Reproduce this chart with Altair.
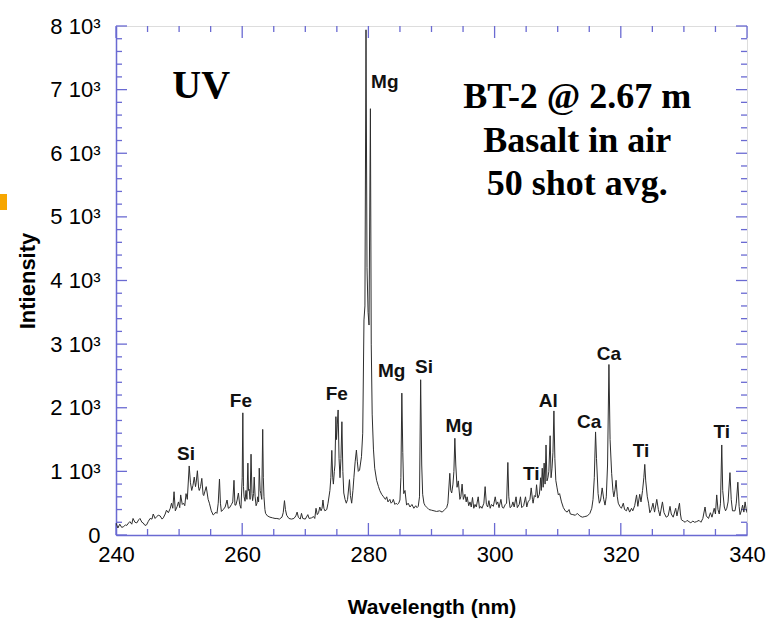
import altair as alt
import pandas as pd

# LIBS spectrum, UV channel: (wavelength in nm, intensity in counts)
seg_240_250 = [
    (240.0, 190), (240.3, 110), (240.6, 170), (240.9, 120), (241.2, 130), (241.5, 160),
    (241.7, 150), (242.0, 190), (242.2, 210), (242.5, 170), (242.7, 260), (243.0, 200),
    (243.3, 190), (243.6, 240), (243.8, 260), (244.1, 200), (244.3, 190), (244.6, 150),
    (244.85, 160), (245.1, 210), (245.4, 260), (245.7, 250), (245.9, 330), (246.2, 260),
    (246.45, 290), (246.7, 310), (247.0, 300), (247.3, 250), (247.5, 270), (247.8, 330),
    (248.0, 390), (248.3, 350), (248.6, 420), (248.8, 500), (249.0, 420), (249.2, 680),
    (249.4, 380), (249.7, 450), (249.9, 520),
]
seg_250_264 = [
    (250.1, 430), (250.25, 630), (250.5, 480), (250.7, 500), (250.9, 460), (251.1, 650),
    (251.3, 560), (251.6, 1085), (251.8, 820), (252.0, 700), (252.2, 780), (252.4, 910),
    (252.6, 760), (252.7, 820), (252.9, 1010), (253.1, 730), (253.2, 700), (253.4, 760),
    (253.6, 890), (253.8, 640), (253.9, 620), (254.1, 690), (254.3, 760), (254.6, 560),
    (254.8, 500), (255.1, 380), (255.4, 315), (255.6, 330), (255.8, 360), (256.0, 340),
    (256.2, 500), (256.4, 880), (256.55, 500), (256.7, 370), (257.0, 400), (257.3, 440),
    (257.6, 550), (257.8, 420), (258.0, 430), (258.3, 480), (258.5, 520), (258.7, 860),
    (258.85, 470), (259.0, 470), (259.2, 550), (259.4, 660), (259.6, 480), (259.8, 420),
    (260.0, 900), (260.1, 1920), (260.2, 760), (260.3, 600), (260.45, 530), (260.6, 700),
    (260.75, 560), (260.9, 1130), (261.0, 700), (261.1, 720), (261.25, 560), (261.4, 1270),
    (261.55, 650), (261.65, 540), (261.8, 650), (261.9, 910), (262.05, 600), (262.2, 460),
    (262.35, 500), (262.45, 600), (262.6, 520), (262.7, 1050), (262.85, 700), (262.95, 650),
    (263.1, 560), (263.25, 1660), (263.35, 900), (263.45, 600), (263.6, 400), (263.7, 340),
]
seg_264_279 = [
    (264.0, 300), (264.4, 280), (264.8, 270), (265.2, 260), (265.5, 260), (265.9, 250),
    (266.3, 280), (266.5, 350), (266.7, 540), (266.85, 400), (267.05, 310), (267.4, 260),
    (267.8, 250), (268.2, 260), (268.5, 300), (268.7, 360), (268.9, 280), (269.2, 250),
    (269.4, 340), (269.6, 260), (270.0, 250), (270.4, 320), (270.6, 260), (271.0, 270),
    (271.3, 290), (271.5, 260), (271.7, 420), (271.9, 320), (272.1, 350), (272.3, 440),
    (272.5, 380), (272.65, 420), (272.8, 550), (272.95, 420), (273.1, 380), (273.4, 400),
    (273.6, 500), (273.9, 700), (274.05, 900), (274.2, 1330), (274.35, 900), (274.45, 800),
    (274.6, 1000), (274.7, 1100), (274.85, 1860), (274.95, 1500), (275.07, 1730),
    (275.2, 1965), (275.35, 1200), (275.5, 900), (275.65, 1200), (275.8, 1780),
    (275.95, 1000), (276.1, 660), (276.3, 560), (276.5, 500), (276.7, 560), (277.0, 870),
    (277.15, 620), (277.35, 500), (277.55, 700), (277.7, 900), (277.9, 1150), (278.1, 1335),
    (278.25, 1150), (278.4, 1000), (278.6, 1020), (278.9, 1230),
]
seg_279_290 = [
    (279.1, 1600), (279.3, 3380), (279.45, 3600), (279.62, 7940), (279.78, 4200),
    (279.95, 3500), (280.1, 3300), (280.32, 6700), (280.45, 3000), (280.6, 1900),
    (280.8, 1350), (281.0, 1050), (281.3, 860), (281.6, 760), (281.8, 700), (282.1, 640),
    (282.4, 600), (282.7, 560), (282.9, 600), (283.1, 520), (283.4, 560), (283.6, 500),
    (283.8, 520), (283.95, 560), (284.2, 480), (284.4, 500), (284.6, 480), (284.8, 500),
    (285.0, 550), (285.15, 900), (285.3, 2230), (285.45, 1300), (285.6, 650), (285.8, 700),
    (286.05, 470), (286.3, 500), (286.6, 440), (286.9, 480), (287.2, 420), (287.5, 460),
    (287.7, 430), (287.9, 450), (288.1, 600), (288.28, 2440), (288.45, 1100), (288.6, 640),
    (288.8, 500), (289.0, 460), (289.3, 430), (289.6, 400),
]
seg_290_305 = [
    (290.0, 390), (290.4, 380), (290.8, 370), (291.3, 380), (291.7, 360), (292.1, 400),
    (292.4, 430), (292.6, 500), (292.9, 970), (293.05, 700), (293.2, 660), (293.4, 800),
    (293.55, 1000), (293.7, 1520), (293.85, 1100), (294.05, 750), (294.25, 850),
    (294.5, 560), (294.65, 600), (294.85, 800), (295.05, 560), (295.3, 640), (295.5, 520),
    (295.65, 600), (295.9, 460), (296.1, 520), (296.3, 440), (296.5, 590), (296.7, 420),
    (296.9, 480), (297.1, 440), (297.4, 600), (297.6, 420), (297.8, 450), (298.0, 420),
    (298.3, 500), (298.5, 760), (298.7, 480), (298.9, 440), (299.1, 540), (299.3, 420),
    (299.5, 480), (299.8, 450), (300.1, 600), (300.3, 480), (300.5, 520), (300.7, 430),
    (301.0, 560), (301.2, 440), (301.4, 420), (301.7, 480), (301.9, 500), (302.1, 1140),
    (302.25, 600), (302.45, 430), (302.7, 450), (302.9, 520), (303.1, 440), (303.4, 600),
    (303.6, 430), (303.9, 480), (304.1, 600), (304.3, 430), (304.6, 460), (304.9, 600),
]
seg_305_320 = [
    (305.1, 440), (305.3, 520), (305.6, 560), (305.8, 740), (306.0, 560), (306.1, 500),
    (306.3, 620), (306.5, 600), (306.65, 790), (306.85, 580), (307.1, 640), (307.3, 900),
    (307.4, 700), (307.55, 1050), (307.7, 750), (307.85, 1130), (308.0, 800), (308.15, 1415),
    (308.3, 850), (308.45, 900), (308.6, 1000), (308.8, 1560), (308.95, 900), (309.1, 1050),
    (309.25, 1300), (309.4, 1950), (309.55, 1200), (309.7, 860), (309.9, 740), (310.1, 630),
    (310.3, 650), (310.6, 520), (310.9, 430), (311.2, 380), (311.5, 360), (311.8, 400),
    (312.0, 330), (312.4, 320), (312.8, 310), (313.1, 340), (313.5, 300), (313.9, 280),
    (314.3, 290), (314.7, 300), (315.1, 340), (315.4, 420), (315.6, 560), (315.8, 900),
    (316.0, 1620), (316.15, 1200), (316.4, 650), (316.6, 500), (316.8, 550), (317.05, 740),
    (317.3, 560), (317.5, 470), (317.7, 600), (317.9, 1100), (318.12, 2680), (318.3, 1500),
    (318.55, 970), (318.75, 700), (318.9, 600), (319.1, 720), (319.25, 860), (319.45, 600),
    (319.6, 500), (319.85, 450),
]
seg_320_340 = [
    (320.1, 420), (320.4, 500), (320.6, 400), (320.9, 380), (321.1, 440), (321.4, 360),
    (321.7, 420), (321.9, 380), (322.2, 460), (322.5, 630), (322.7, 450), (323.0, 640),
    (323.2, 520), (323.45, 700), (323.65, 900), (323.8, 1110), (323.95, 850), (324.2, 600),
    (324.4, 500), (324.6, 350), (324.85, 400), (325.1, 500), (325.35, 360), (325.7, 560),
    (325.95, 400), (326.2, 300), (326.6, 520), (326.85, 350), (327.2, 280), (327.5, 300),
    (327.8, 450), (328.0, 330), (328.3, 280), (328.7, 420), (328.9, 300), (329.3, 500),
    (329.45, 330), (329.6, 240), (329.9, 220), (330.2, 200), (330.5, 230), (330.8, 210),
    (331.1, 190), (331.4, 220), (331.7, 200), (332.0, 210), (332.4, 230), (332.7, 200),
    (333.0, 260), (333.35, 440), (333.55, 300), (333.9, 260), (334.2, 350), (334.45, 280),
    (334.8, 420), (335.0, 330), (335.2, 630), (335.4, 400), (335.6, 330), (335.8, 500),
    (336.0, 1415), (336.15, 700), (336.4, 440), (336.6, 380), (336.8, 420), (337.0, 520),
    (337.3, 980), (337.5, 560), (337.7, 380), (338.1, 380), (338.3, 500), (338.55, 830),
    (338.75, 450), (338.9, 320), (339.1, 380), (339.3, 470), (339.5, 360), (339.7, 520),
    (339.85, 420), (340.0, 350),
]

# Emission line labels
line_names = ["Si", "Fe", "Fe", "Mg", "Mg", "Si", "Mg", "Ti", "Al", "Ca", "Ca", "Ti", "Ti"]
line_wl = [251.1, 259.8, 275.0, 282.6, 283.7, 288.8, 294.4, 305.8, 308.5, 315.0, 318.1, 323.2, 336.0]
line_y = [1180, 2010, 2120, 7030, 2480, 2550, 1620, 865, 2010, 1680, 2750, 1225, 1525]

# Panel annotations
note_text = ["BT-2 @ 2.67 m", "Basalt in air", "50 shot avg."]
note_wl = [313.1, 313.1, 313.1]
note_y = [6714, 6022, 5346]
band_text = ["UV"]
band_wl = [253.5]
band_y = [6871]

# Axis ticks
x_major = [240, 260, 280, 300, 320, 340]
x_minor = [v for v in range(240, 341, 5) if v % 20]
y_major = [0, 1000, 2000, 3000, 4000, 5000, 6000, 7000, 8000]
y_minor = [v for v in range(0, 8001, 200) if v % 1000]

W, H = 631, 509
AXIS = "#6a6ad2"
SANS = "Liberation Sans"

spec = pd.DataFrame(
    seg_240_250 + seg_250_264 + seg_264_279 + seg_279_290
    + seg_290_305 + seg_305_320 + seg_320_340,
    columns=["wl", "counts"],
)

xs = alt.Scale(domain=[240, 340], nice=False, zero=False)
ys = alt.Scale(domain=[0, 8000], nice=False)

x_axis = alt.Axis(
    values=x_major, ticks=False, grid=False, domainColor=AXIS, domainWidth=1.5,
    labelFont=SANS, labelFontSize=22, labelColor="#000", labelPadding=9,
    labelFlush=False, title="Wavelength (nm)", titleFont=SANS, titleFontSize=21,
    titleFontWeight="bold", titleColor="#000", titlePadding=31,
)
y_axis = alt.Axis(
    values=y_major, ticks=False, grid=False, domainColor=AXIS, domainWidth=1.5,
    labelFont=SANS, labelFontSize=22, labelColor="#000", labelPadding=16,
    labelFlush=False,
    labelExpr="datum.value == 0 ? '0' : (datum.value / 1000) + ' 10\u00b3'",
    title="Intiensity", titleFont=SANS, titleFontSize=22, titleFontWeight="bold",
    titleColor="#000", titlePadding=10,
)

line = alt.Chart(spec).mark_line(color="#2e2e2e", strokeWidth=1, clip=True).encode(
    x=alt.X("wl:Q", scale=xs, axis=x_axis),
    y=alt.Y("counts:Q", scale=ys, axis=y_axis),
)


def x_ticks(vals, length):
    d = pd.DataFrame({"wl": vals})
    base = alt.Chart(d).mark_rule(color=AXIS, strokeWidth=1.3)
    bottom = base.encode(x=alt.X("wl:Q", scale=xs), y=alt.value(H), y2=alt.value(H - length))
    top = base.encode(x=alt.X("wl:Q", scale=xs), y=alt.value(0), y2=alt.value(length))
    return [bottom, top]


def y_ticks(vals, length):
    d = pd.DataFrame({"counts": vals})
    base = alt.Chart(d).mark_rule(color=AXIS, strokeWidth=1.3)
    left = base.encode(y=alt.Y("counts:Q", scale=ys), x=alt.value(0), x2=alt.value(length))
    right = base.encode(y=alt.Y("counts:Q", scale=ys), x=alt.value(W), x2=alt.value(W - length))
    return [left, right]


ticks = x_ticks(x_major, 12) + x_ticks(x_minor, 6) + y_ticks(y_major, 11) + y_ticks(y_minor, 6)

labels = alt.Chart(
    pd.DataFrame({"wl": line_wl, "counts": line_y, "name": line_names})
).mark_text(font=SANS, fontSize=19, fontWeight="bold", color="#111",
            align="center", baseline="alphabetic").encode(
    x=alt.X("wl:Q", scale=xs), y=alt.Y("counts:Q", scale=ys), text="name:N"
)

notes = alt.Chart(
    pd.DataFrame({"wl": note_wl, "counts": note_y, "t": note_text})
).mark_text(font="Liberation Serif", fontSize=36, fontWeight="bold", color="#000",
            align="center", baseline="alphabetic").encode(
    x=alt.X("wl:Q", scale=xs), y=alt.Y("counts:Q", scale=ys), text="t:N"
)

band = alt.Chart(
    pd.DataFrame({"wl": band_wl, "counts": band_y, "t": band_text})
).mark_text(font="Liberation Serif", fontSize=40, fontWeight="bold", color="#000",
            align="center", baseline="alphabetic").encode(
    x=alt.X("wl:Q", scale=xs), y=alt.Y("counts:Q", scale=ys), text="t:N"
)

# small orange bullet at the left page edge
bullet = alt.Chart(pd.DataFrame({"k": [0]})).mark_rect(color="#f7a600").encode(
    x=alt.value(-116), x2=alt.value(-109), y=alt.value(168), y2=alt.value(184)
)

chart = alt.layer(*ticks, line, labels, notes, band, bullet).properties(
    width=W, height=H,
    autosize=alt.AutoSizeParams(type="none"),
    padding={"left": 116, "top": 26, "right": 34, "bottom": 91},
).configure_view(stroke=AXIS, strokeWidth=1.5).configure(background="white")

chart.save("out.html", embed_options={"renderer": "svg", "actions": False})
